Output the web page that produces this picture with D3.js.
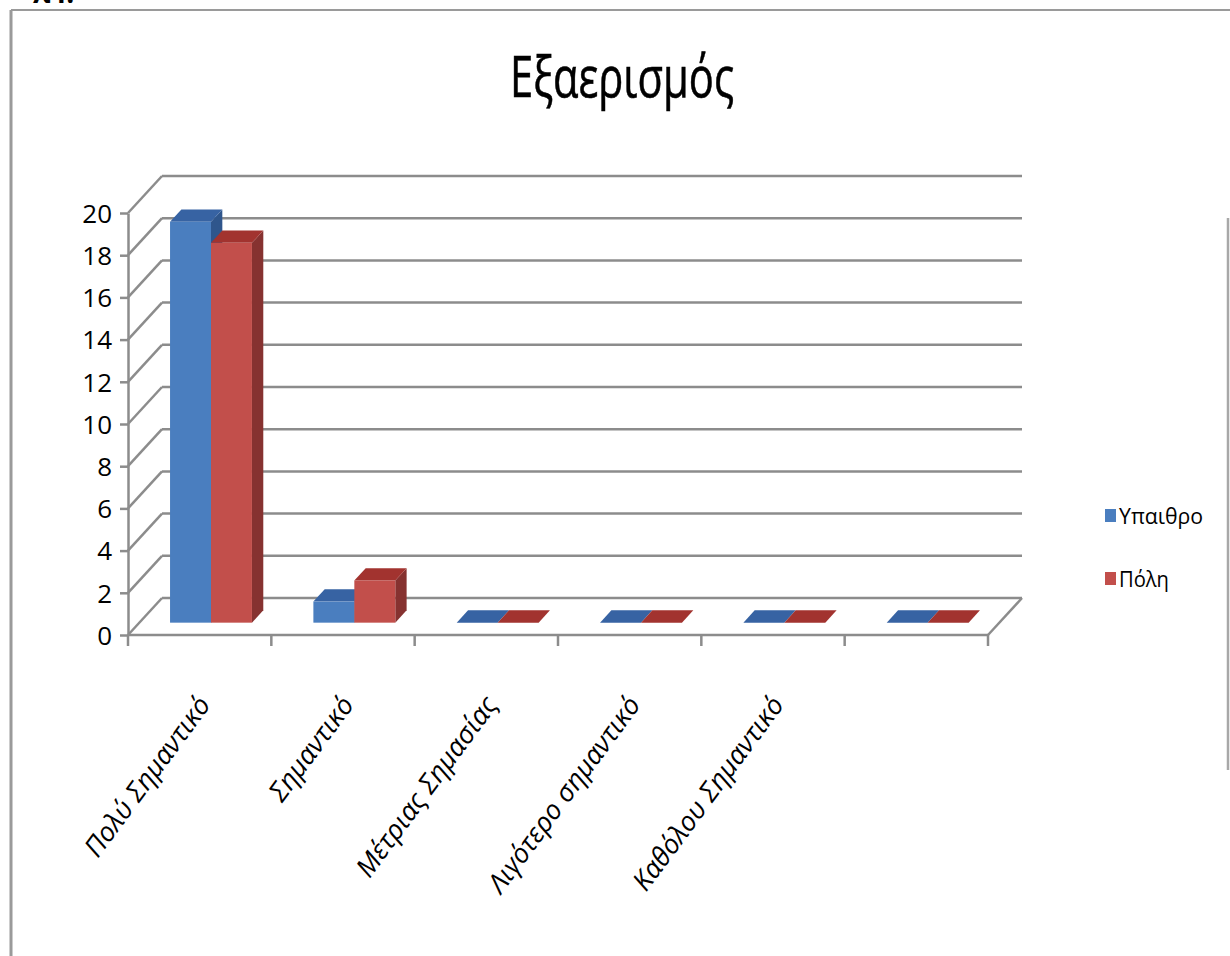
<!DOCTYPE html>
<html>
<head>
<meta charset="utf-8">
<script src="https://cdn.jsdelivr.net/npm/d3@7/dist/d3.min.js"></script>
<style>
  html, body { margin: 0; padding: 0; background: #fff; }
  svg { display: block; }
  text { font-family: "Open Sans", "Noto Sans", sans-serif; fill: #000; }
</style>
</head>
<body>
<svg id="chart" width="1230" height="956"></svg>
<script>
// Data
const categories = ["Πολύ Σημαντικό", "Σημαντικό", "Μέτριας Σημασίας", "Λιγότερο σημαντικό", "Καθόλου Σημαντικό", ""];
const seriesNames = ["Υπαιθρο", "Πόλη"];
const ypaithro = [19, 1, 0, 0, 0, 0];
const poli = [18, 2, 0, 0, 0, 0];
const yTicks = [0, 2, 4, 6, 8, 10, 12, 14, 16, 18, 20];
const title = "Εξαερισμός";

const seriesValues = [ypaithro, poli];
const faceColors = [
  { front: "#4A7EBF", top: "#3763A3", side: "#2F568C" },
  { front: "#C24F4B", top: "#A2332F", side: "#863230" }
];

const svg = d3.select("#chart");

// Plot geometry (front plane + depth offset of the 3D box)
const plotLeft = 128, plotRight = 988, plotBottom = 635, plotTop = 213;
const DX = 34, DY = -37;
const gridColor = "#8c8c8c";

const x = d3.scaleBand().domain(d3.range(categories.length)).range([plotLeft, plotRight]).paddingInner(0).paddingOuter(0);
const xs = d3.scaleBand().domain(d3.range(seriesNames.length)).range([0, x.bandwidth()]).paddingInner(0).paddingOuter(0.75);
const y = d3.scaleLinear().domain([0, 20]).range([plotBottom, plotTop]);

// Outer frame
svg.append("line").attr("x1", 11).attr("y1", 10).attr("x2", 11).attr("y2", 956)
  .attr("stroke", "#9a9a9a").attr("stroke-width", 3);
svg.append("line").attr("x1", 11).attr("y1", 10).attr("x2", 1230).attr("y2", 10)
  .attr("stroke", "#9a9a9a").attr("stroke-width", 2);
svg.append("line").attr("x1", 1228).attr("y1", 218).attr("x2", 1228).attr("y2", 770)
  .attr("stroke", "#a8a8a8").attr("stroke-width", 2.5);
svg.append("text").attr("x", 33).attr("y", 3).attr("font-size", 28).attr("font-weight", "bold").text("λ4.");

// Title
svg.append("text").attr("x", 622).attr("y", 97).attr("text-anchor", "middle")
  .attr("font-size", 57).attr("textLength", 224).attr("lengthAdjust", "spacingAndGlyphs")
  .attr("stroke", "#000").attr("stroke-width", 0.6)
  .text(title);

// Back wall gridlines and side-wall diagonals
const grid = svg.append("g").attr("stroke", gridColor).attr("stroke-width", 2.5).attr("fill", "none");
yTicks.forEach(v => {
  grid.append("line")
    .attr("x1", plotLeft + DX).attr("y1", y(v) + DY)
    .attr("x2", plotRight + DX).attr("y2", y(v) + DY);
  grid.append("line")
    .attr("x1", plotLeft).attr("y1", y(v))
    .attr("x2", plotLeft + DX).attr("y2", y(v) + DY);
});
// Floor front and right edges
grid.append("line").attr("x1", plotLeft).attr("y1", plotBottom).attr("x2", plotRight).attr("y2", plotBottom);
grid.append("line").attr("x1", plotRight).attr("y1", plotBottom).attr("x2", plotRight + DX).attr("y2", plotBottom + DY);

// Y axis
const yAxis = d3.axisLeft(y).tickValues(yTicks).tickSize(8).tickPadding(8).tickSizeOuter(0);
const yG = svg.append("g").attr("transform", `translate(${plotLeft},0)`).call(yAxis);
yG.select(".domain").attr("stroke", gridColor).attr("stroke-width", 2.5);
yG.selectAll(".tick line").attr("stroke", gridColor).attr("stroke-width", 2.5);
yG.selectAll(".tick text").attr("font-size", 26).attr("font-family", "Open Sans").attr("fill", "#000").attr("dy", "0.36em");

// X axis tick marks at category boundaries
const boundaries = d3.range(categories.length + 1).map(i => i < categories.length ? x(i) : plotRight);
svg.append("g").selectAll("line").data(boundaries).join("line")
  .attr("x1", d => d).attr("x2", d => d)
  .attr("y1", plotBottom).attr("y2", plotBottom + 11)
  .attr("stroke", gridColor).attr("stroke-width", 2.5);

// 3D columns: bars sit in the middle third of the depth
const f0 = 1 / 3, f1 = 2 / 3;
const ox0 = DX * f0, oy0 = DY * f0, dd = DX * (f1 - f0), ddy = DY * (f1 - f0);
const bars = svg.append("g");
categories.forEach((c, ci) => {
  seriesValues.forEach((vals, si) => {
    const v = vals[ci];
    const xl = x(ci) + xs(si) + ox0;
    const xr = xl + xs.bandwidth();
    const yb = y(0) + oy0;
    const yt = y(v) + oy0;
    const col = faceColors[si];
    // side face
    bars.append("path")
      .attr("d", `M${xr},${yb} L${xr + dd},${yb + ddy} L${xr + dd},${yt + ddy} L${xr},${yt} Z`)
      .attr("fill", col.side);
    // top face
    bars.append("path")
      .attr("d", `M${xl},${yt} L${xl + dd},${yt + ddy} L${xr + dd},${yt + ddy} L${xr},${yt} Z`)
      .attr("fill", col.top);
    // front face
    if (v > 0) {
      bars.append("rect").attr("x", xl).attr("y", yt).attr("width", xr - xl).attr("height", yb - yt)
        .attr("fill", col.front);
    }
  });
});

// Category labels, rotated
svg.append("g").selectAll("text").data(categories).join("text")
  .attr("transform", (d, i) => `translate(${x(i) + x.bandwidth() / 2 + 12},${705}) rotate(-53.5)`)
  .attr("text-anchor", "end")
  .attr("font-size", 27)
  .attr("font-style", "italic")
  .text(d => d);

// Legend
const legend = svg.append("g");
const legendY = [509, 572];
seriesNames.forEach((name, i) => {
  legend.append("rect").attr("x", 1105).attr("y", legendY[i]).attr("width", 11).attr("height", 13)
    .attr("fill", faceColors[i].front);
  legend.append("text").attr("x", 1119).attr("y", legendY[i] + 15).attr("font-size", 21)
    .attr("textLength", name.length > 4 ? 84 : 50).attr("lengthAdjust", "spacingAndGlyphs")
    .text(name);
});
</script>
</body>
</html>
